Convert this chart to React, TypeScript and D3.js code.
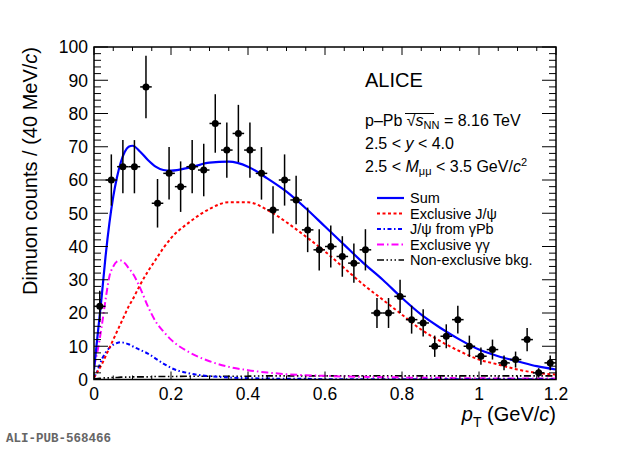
import React from "react";
import * as d3 from "d3";

// measured data points (pT bin centres, counts per bin)
const ptBins = [
  0.015, 0.045, 0.075, 0.105, 0.135, 0.165, 0.195, 0.225, 0.255, 0.285,
  0.315, 0.345, 0.375, 0.405, 0.435, 0.465, 0.495, 0.525, 0.555, 0.585,
  0.615, 0.645, 0.675, 0.705, 0.735, 0.765, 0.795, 0.825, 0.855, 0.885,
  0.915, 0.945, 0.975, 1.005, 1.035, 1.065, 1.095, 1.125, 1.155, 1.185,
];
const counts = [
  22, 60, 64, 64, 88, 53, 62, 58, 64, 63, 77, 69, 74, 69, 62, 51, 60, 54, 45,
  39, 40, 37, 35, 39, 20, 20, 25, 18, 17, 10, 13, 18, 10, 7, 9, 5, 6, 12, 2, 5,
];
const countErrors = [
  4.7, 7.7, 8, 8, 9.4, 7.3, 7.9, 7.6, 8, 7.9, 8.8, 8.3, 8.6, 8.3, 7.9, 7.1,
  7.7, 7.3, 6.7, 6.2, 6.3, 6.1, 5.9, 6.2, 4.5, 4.5, 5, 4.2, 4.1, 3.2, 3.6, 4.2,
  3.2, 2.6, 3, 2.2, 2.4, 3.5, 1.4, 2.2,
];
const binHalfWidth = 0.015;

// fit components on a pT grid
const ptGrid = [
  0, 0.01, 0.02, 0.03, 0.04, 0.05, 0.06, 0.07, 0.08, 0.09, 0.1, 0.12, 0.14,
  0.16, 0.18, 0.2, 0.25, 0.3, 0.35, 0.4, 0.45, 0.5, 0.55, 0.6, 0.65, 0.7, 0.75,
  0.8, 0.85, 0.9, 0.95, 1.0, 1.05, 1.1, 1.15, 1.2,
];
const sumFit = [
  3, 14, 25, 37, 47, 55, 61, 65.5, 68.5, 70, 70.3, 68.5, 66, 64, 63, 62.8,
  63.8, 65.2, 65.5, 64, 60.5, 56.5, 51.5, 46, 40.5, 35, 30, 24.5, 19.5, 15.5,
  12, 9, 7, 5.5, 4, 3,
];
const exclJpsi = [
  0.5, 2.5, 4.5, 7, 9.5, 12, 14.5, 17, 19.5, 22, 24, 28.5, 32.5, 36, 39.5,
  42.5, 47.5, 51.3, 53.3, 53.3, 51, 47.3, 43, 38.5, 33.5, 28.5, 24, 19.5, 15,
  11.5, 8.5, 6, 4.5, 3, 2, 1.5,
];
const jpsiGammaPb = [
  0.5, 3, 6, 8, 9.5, 10.5, 11, 11.2, 11, 10.6, 10, 8.9, 7.8, 6.3, 4.8, 3.5,
  1.8, 1, 0.6, 0.4, 0.3, 0.2, 0.2, 0.1, 0.1, 0.1, 0.1, 0.1, 0.1, 0.1, 0.1, 0.1,
  0.1, 0.1, 0.1, 0.1,
];
const exclGammaGamma = [
  4, 9, 16, 24, 31, 34, 35.5, 35.8, 35, 33.5, 32, 27.5, 22, 17.5, 14.5, 12, 8,
  5.5, 3.8, 2.8, 2.1, 1.6, 1.3, 1.1, 0.9, 0.8, 0.7, 0.6, 0.5, 0.5, 0.4, 0.4,
  0.3, 0.3, 0.3, 0.3,
];
const nonExclBkg = [
  0.2, 0.3, 0.4, 0.5, 0.5, 0.6, 0.6, 0.7, 0.7, 0.7, 0.8, 0.8, 0.8, 0.9, 0.9,
  0.9, 1, 1, 1, 1, 1.1, 1.1, 1.1, 1.1, 1.1, 1.1, 1.1, 1.1, 1.1, 1.1, 1.1, 1.1,
  1.1, 1.1, 1.1, 1.1,
];

const xTicks = [0, 0.2, 0.4, 0.6, 0.8, 1, 1.2];
const yTicks = [0, 10, 20, 30, 40, 50, 60, 70, 80, 90, 100];

const W = 620,
  H = 449;
const frame = { left: 94, right: 556, top: 47, bottom: 379.5 };
const FONT = "'Liberation Sans', Arial, Helvetica, sans-serif";

const curves = [
  { key: "sum", label: "Sum", values: sumFit, color: "#0000ff", dash: "", width: 2.2 },
  { key: "excl", label: "Exclusive J/ψ", values: exclJpsi, color: "#ff0000", dash: "3,2.5", width: 2 },
  { key: "gpb", label: "J/ψ from γPb", values: jpsiGammaPb, color: "#0000ff", dash: "4,2.5,1.5,2.5", width: 2 },
  { key: "gg", label: "Exclusive γγ", values: exclGammaGamma, color: "#ff00ff", dash: "7,3,1.5,3", width: 2 },
  { key: "bkg", label: "Non-exclusive bkg.", values: nonExclBkg, color: "#000000", dash: "7,2.5,1.5,2.5,1.5,2.5,1.5,2.5", width: 1.6 },
];

export default function App() {
  const x = d3.scaleLinear().domain([0, 1.2]).range([frame.left, frame.right]);
  const y = d3.scaleLinear().domain([0, 100]).range([frame.bottom, frame.top]);

  const xMinor = d3.range(0, 1.2001, 0.05);
  const yMinor = d3.range(0, 100.001, 2);

  const line = (vals: number[]) =>
    d3
      .line<number>()
      .x((_, i) => x(ptGrid[i]))
      .y((d) => y(d))
      .curve(d3.curveMonotoneX)(vals) as string;

  const legendY = [203, 218.5, 234, 249.5, 265];

  return (
    <div style={{ position: "absolute", left: 0, top: 0, width: W, height: H }}>
      <svg width={W} height={H} xmlns="http://www.w3.org/2000/svg" style={{ display: "block", background: "#fff" }}>
        <defs>
          <clipPath id="plot-clip">
            <rect x={frame.left} y={frame.top} width={frame.right - frame.left} height={frame.bottom - frame.top} />
          </clipPath>
        </defs>

        {/* fit curves */}
        <g clipPath="url(#plot-clip)" fill="none">
          {curves
            .slice()
            .reverse()
            .map((c) => (
              <path
                key={c.key}
                d={line(c.values)}
                stroke={c.color}
                strokeWidth={c.width}
                strokeDasharray={c.dash || undefined}
              />
            ))}
        </g>

        {/* data points */}
        <g stroke="#000" strokeWidth={1.5}>
          {ptBins.map((pt, i) => (
            <g key={i}>
              <line x1={x(pt)} x2={x(pt)} y1={y(counts[i] - countErrors[i])} y2={y(Math.min(counts[i] + countErrors[i], 100))} />
              <line x1={x(pt - binHalfWidth)} x2={x(pt + binHalfWidth)} y1={y(counts[i])} y2={y(counts[i])} />
              <circle cx={x(pt)} cy={y(counts[i])} r={3.5} fill="#000" stroke="none" />
            </g>
          ))}
        </g>

        {/* frame and ticks */}
        <g stroke="#000" strokeWidth={1}>
          {xMinor.map((v, i) => {
            const major = i % 4 === 0;
            const len = major ? 8 : 4;
            return (
              <g key={"xt" + i}>
                <line x1={x(v)} x2={x(v)} y1={frame.bottom} y2={frame.bottom - len} />
                <line x1={x(v)} x2={x(v)} y1={frame.top} y2={frame.top + len} />
              </g>
            );
          })}
          {yMinor.map((v, i) => {
            const major = i % 5 === 0;
            const len = major ? 14 : 7;
            return (
              <g key={"yt" + i}>
                <line x1={frame.left} x2={frame.left + len} y1={y(v)} y2={y(v)} />
                <line x1={frame.right} x2={frame.right - len} y1={y(v)} y2={y(v)} />
              </g>
            );
          })}
          <rect
            x={frame.left}
            y={frame.top}
            width={frame.right - frame.left}
            height={frame.bottom - frame.top}
            fill="none"
            strokeWidth={1.5}
          />
        </g>

        {/* tick labels */}
        <g fontFamily={FONT} fontSize={17.5} fill="#000">
          {xTicks.map((v) => (
            <text key={"xl" + v} x={x(v)} y={400} textAnchor="middle">
              {String(v)}
            </text>
          ))}
          {yTicks.map((v) => (
            <text key={"yl" + v} x={88} y={y(v) + 6.3} textAnchor="end">
              {String(v)}
            </text>
          ))}
        </g>

        {/* axis titles */}
        <text
          fontFamily={FONT}
          fontSize={20}
          textAnchor="end"
          transform={`translate(37, ${frame.top}) rotate(-90)`}
        >
          Dimuon counts / (40 MeV/<tspan fontStyle="italic">c</tspan>)
        </text>
        <text fontFamily={FONT} fontSize={20} textAnchor="end" x={frame.right} y={421}>
          <tspan fontStyle="italic">p</tspan>
          <tspan fontSize={14} dy={6}>T</tspan>
          <tspan dy={-6}> (GeV/</tspan>
          <tspan fontStyle="italic">c</tspan>)
        </text>

        {/* labels */}
        <g fontFamily={FONT} fill="#000">
          <text x={365} y={87} fontSize={20}>ALICE</text>
          <text x={365} y={126} fontSize={16}>
            p–Pb √<tspan fontStyle="italic">s</tspan>
            <tspan fontSize={11} dy={3}>NN</tspan>
            <tspan dy={-3}> = 8.16 TeV</tspan>
          </text>
          <line x1={405} x2={434} y1={113.5} y2={113.5} stroke="#000" strokeWidth={1} />
          <text x={365} y={149} fontSize={16}>
            2.5 &lt; <tspan fontStyle="italic">y</tspan> &lt; 4.0
          </text>
          <text x={365} y={172} fontSize={16}>
            2.5 &lt; <tspan fontStyle="italic">M</tspan>
            <tspan fontSize={11} dy={3}>μμ</tspan>
            <tspan dy={-3}> &lt; 3.5 GeV/</tspan>
            <tspan fontStyle="italic">c</tspan>
            <tspan fontSize={11} dy={-6}>2</tspan>
          </text>
        </g>

        {/* legend */}
        <g fontFamily={FONT} fontSize={14.5}>
          {curves.map((c, i) => (
            <g key={"lg" + c.key}>
              <line
                x1={377}
                x2={404}
                y1={legendY[i] - 5}
                y2={legendY[i] - 5}
                stroke={c.color}
                strokeWidth={c.width}
                strokeDasharray={c.dash || undefined}
              />
              <text x={410} y={legendY[i]}>{c.label}</text>
            </g>
          ))}
        </g>

        <text
          x={6}
          y={442}
          fontFamily="'Courier New', 'Liberation Mono', monospace"
          fontWeight="bold"
          fontSize={12.5}
          fill="#666"
        >
          ALI-PUB-568466
        </text>
      </svg>
    </div>
  );
}
